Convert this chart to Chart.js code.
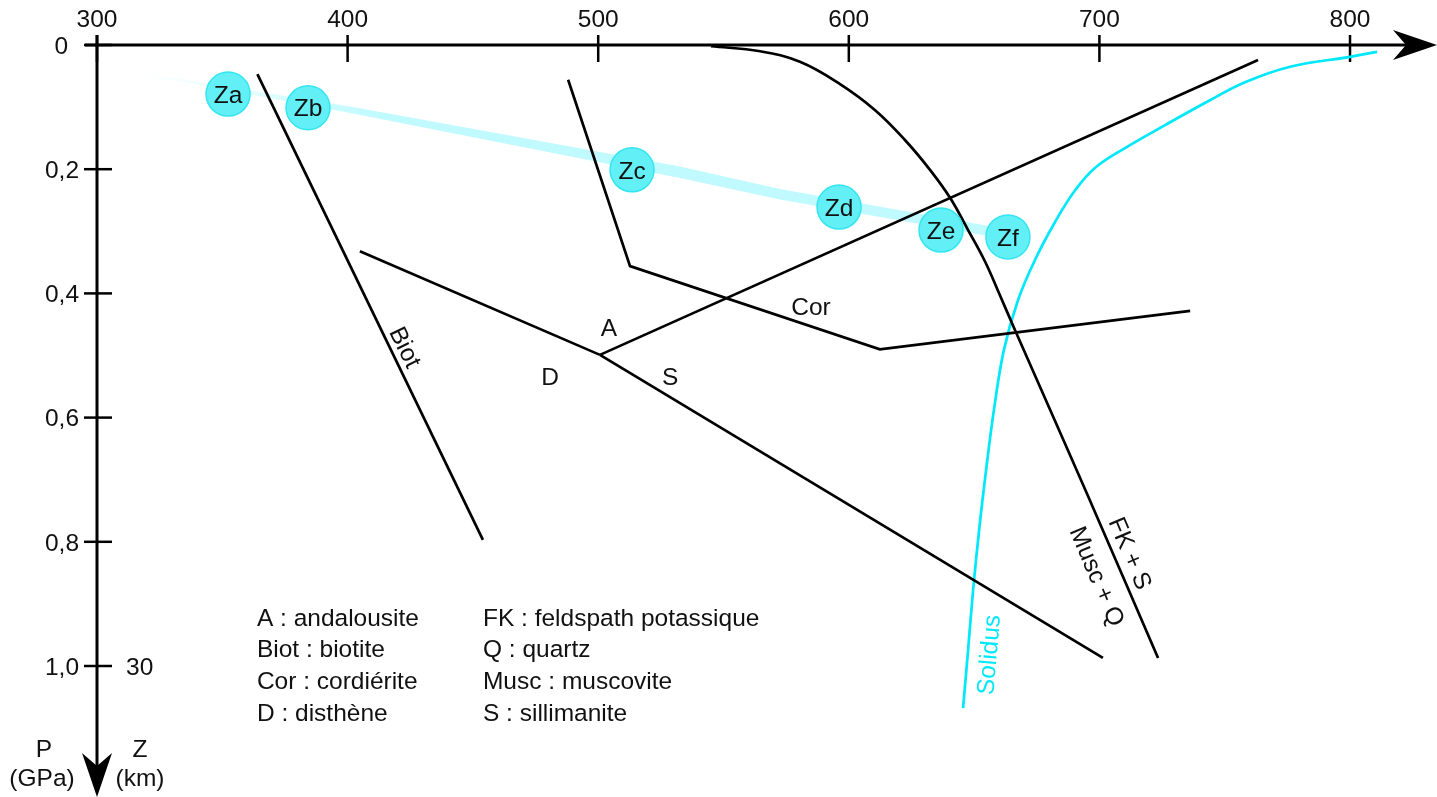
<!DOCTYPE html>
<html lang="fr">
<head>
<meta charset="utf-8">
<title>Chemin P-T et réactions métamorphiques</title>
<script src="https://cdn.jsdelivr.net/npm/chart.js@4.4.1/dist/chart.umd.min.js"></script>
<style>
  html, body { margin: 0; padding: 0; background: #ffffff; overflow: hidden; }
  #wrap { position: relative; width: 1437px; height: 797px; }
</style>
</head>
<body>
<div id="wrap"><canvas id="pt"></canvas></div>
<script>
// Axes : température (°C) en abscisse, pression (GPa) en ordonnée
const temperatureTicks = [300, 400, 500, 600, 700, 800];
const pressureTicks = [0, 0.2, 0.4, 0.6, 0.8, 1.0];
const pressureTickLabels = ['0', '0,2', '0,4', '0,6', '0,8', '1,0'];
const depthTickLabels = ['30'];
const depthTickPressures = [1.0];

// Courbes de réaction (T en °C, P en GPa)
const biotiteT = [364, 454];
const biotiteP = [0.047, 0.797];
const cordieriteT = [488.0, 512.7, 612.4, 736.2];
const cordieriteP = [0.056, 0.356, 0.490, 0.428];
const andDisT = [404.9, 500.7];
const andDisP = [0.332, 0.499];
const andSilT = [500.7, 763.3];
const andSilP = [0.499, 0.024];
const disSilT = [500.7, 701.4];
const disSilP = [0.499, 0.987];
const muscoviteT = [545.0, 564.6, 580.5, 596.5, 610.5, 622.4, 632.4, 640.4, 647.6, 654.4, 660.3, 666.3, 695.1, 723.4];
const muscoviteP = [0.002, 0.010, 0.027, 0.063, 0.105, 0.153, 0.201, 0.246, 0.298, 0.349, 0.403, 0.459, 0.723, 0.987];
const solidusT = [645.6, 647.6, 649.6, 652.0, 654.8, 657.9, 661.9, 667.5, 674.3, 682.3, 690.3, 698.2, 710.2, 726.2, 744.1, 758.1, 776.1, 800.0, 810.8];
const solidusP = [1.068, 0.974, 0.878, 0.781, 0.684, 0.588, 0.491, 0.411, 0.346, 0.285, 0.234, 0.198, 0.166, 0.129, 0.089, 0.060, 0.035, 0.019, 0.011];

// Chemin P-T suivi par les zones (bande claire)
const pathT = [315.2, 401.0, 532.6, 572.5, 658.3];
const pathTopP = [0.0435, 0.0990, 0.1957, 0.2319, 0.2930];
const pathBottomP = [0.0451, 0.1095, 0.2142, 0.2488, 0.3090];

// Zones métamorphiques
const zoneNames = ['Za', 'Zb', 'Zc', 'Zd', 'Ze', 'Zf'];
const zoneT = [352.3, 384.2, 513.5, 596.1, 636.8, 663.5];
const zoneP = [0.079, 0.101, 0.201, 0.261, 0.298, 0.309];

// Étiquettes des domaines et des courbes
const fieldLabels = ['Biot', 'A', 'D', 'S', 'Cor', 'FK + S', 'Musc + Q', 'Solidus'];
const fieldLabelT = [423.3, 504.3, 480.8, 528.7, 584.9, 712.6, 699.4, 655.5];
const fieldLabelP = [0.486, 0.454, 0.533, 0.533, 0.420, 0.818, 0.855, 0.982];

// Légende des abréviations
const legendLeft = ['A : andalousite', 'Biot : biotite', 'Cor : cordiérite', 'D : disthène'];
const legendRight = ['FK : feldspath potassique', 'Q : quartz', 'Musc : muscovite', 'S : sillimanite'];

// ---- style ----
const INK = '#111111';
const CYAN = '#00e8fb';
const FONT_SIZE = 24.5;
const FONT = FONT_SIZE + 'px "Liberation Sans", Arial, Helvetica, sans-serif';
const labelStyle = {
  'Biot': { angle: 64, color: INK },
  'FK + S': { angle: 67, color: INK },
  'Musc + Q': { angle: 67, color: INK },
  'Solidus': { angle: -85, color: CYAN }
};
const legendColumnsT = [363.8, 454.0];
const legendFirstRowP = 0.921;
const legendRowStepP = 0.0511;

function pts(xs, ys) { return xs.map((x, i) => ({ x: x, y: ys[i] })); }

function drawText(ctx, str, x, y, align, angle, color) {
  ctx.save();
  ctx.translate(x, y);
  if (angle) ctx.rotate(angle * Math.PI / 180);
  ctx.font = FONT;
  ctx.fillStyle = color || INK;
  ctx.textAlign = align || 'center';
  ctx.textBaseline = 'alphabetic';
  ctx.fillText(str, 0, FONT_SIZE * 0.358);
  ctx.restore();
}

function seg(ctx, x1, y1, x2, y2) {
  ctx.beginPath(); ctx.moveTo(x1, y1); ctx.lineTo(x2, y2); ctx.stroke();
}

// Axes fléchés, graduations et libellés
const axesPlugin = {
  id: 'ptAxes',
  beforeDatasetsDraw(chart) {
    const ctx = chart.ctx, xs = chart.scales.x, ys = chart.scales.y;
    const W = chart.width, H = chart.height;
    const ox = xs.getPixelForValue(temperatureTicks[0]);
    const oy = ys.getPixelForValue(pressureTicks[0]);
    ctx.save();
    ctx.strokeStyle = '#000'; ctx.fillStyle = '#000';
    ctx.lineWidth = 3;
    seg(ctx, ox - 12, oy, W - 30, oy);
    seg(ctx, ox, oy - 10, ox, H - 30);
    // pointes de flèche
    ctx.beginPath();
    ctx.moveTo(W, oy); ctx.lineTo(W - 44, oy - 15); ctx.lineTo(W - 31, oy); ctx.lineTo(W - 44, oy + 15);
    ctx.closePath(); ctx.fill();
    ctx.beginPath();
    ctx.moveTo(ox, H); ctx.lineTo(ox - 15, H - 44); ctx.lineTo(ox, H - 31); ctx.lineTo(ox + 15, H - 44);
    ctx.closePath(); ctx.fill();
    // graduations
    ctx.lineWidth = 2.5;
    temperatureTicks.forEach(t => {
      const px = xs.getPixelForValue(t);
      seg(ctx, px, oy - 10, px, oy + 17);
      drawText(ctx, String(t), px, oy - 27, 'center');
    });
    pressureTicks.forEach((p, i) => {
      const py = ys.getPixelForValue(p);
      seg(ctx, ox - 13, py, ox + 15, py);
      drawText(ctx, pressureTickLabels[i], p === 0 ? ox - 29 : ox - 18, py, 'right');
    });
    depthTickPressures.forEach((p, i) => {
      drawText(ctx, depthTickLabels[i], ox + 29, ys.getPixelForValue(p), 'left');
    });
    drawText(ctx, 'P', ox - 53, H - 49, 'center');
    drawText(ctx, '(GPa)', ox - 55, H - 20, 'center');
    drawText(ctx, 'Z', ox + 43, H - 49, 'center');
    drawText(ctx, '(km)', ox + 43, H - 20, 'center');
    ctx.restore();
  }
};

// Noms des zones, étiquettes des courbes et légende
const labelsPlugin = {
  id: 'ptLabels',
  afterDatasetsDraw(chart) {
    const ctx = chart.ctx, xs = chart.scales.x, ys = chart.scales.y;
    const zoneMeta = chart.getDatasetMeta(chart.data.datasets.findIndex(d => d.label === 'Zones'));
    zoneMeta.data.forEach((el, i) => drawText(ctx, zoneNames[i], el.x, el.y, 'center'));
    fieldLabels.forEach((name, i) => {
      const st = labelStyle[name] || {};
      drawText(ctx, name, xs.getPixelForValue(fieldLabelT[i]), ys.getPixelForValue(fieldLabelP[i]),
        'center', st.angle || 0, st.color || INK);
    });
    [legendLeft, legendRight].forEach((col, c) => {
      col.forEach((str, r) => {
        drawText(ctx, str, xs.getPixelForValue(legendColumnsT[c]),
          ys.getPixelForValue(legendFirstRowP + r * legendRowStepP), 'left');
      });
    });
  }
};

function reactionLine(label, xs, ys, color, tension) {
  return {
    label: label, data: pts(xs, ys), borderColor: color, borderWidth: 2.7,
    pointRadius: 0, fill: false, tension: tension || 0, order: 5
  };
}

const pathFill = (context) => {
  const chart = context.chart;
  if (!chart.chartArea) return 'rgb(192,250,255)';
  const xs = chart.scales.x;
  const g = chart.ctx.createLinearGradient(xs.getPixelForValue(pathT[0]), 0, xs.getPixelForValue(pathT[1]) + 30, 0);
  g.addColorStop(0, 'rgba(192,250,255,0)');
  g.addColorStop(1, 'rgba(192,250,255,1)');
  return g;
};

new Chart(document.getElementById('pt'), {
  type: 'line',
  data: {
    datasets: [
      { label: 'Chemin haut', data: pts(pathT, pathTopP), borderWidth: 0, pointRadius: 0, fill: false, order: 10 },
      { label: 'Chemin P-T', data: pts(pathT, pathBottomP), borderWidth: 0, pointRadius: 0, fill: '-1',
        backgroundColor: pathFill, order: 10 },
      reactionLine('Biot', biotiteT, biotiteP, '#000'),
      reactionLine('Cor', cordieriteT, cordieriteP, '#000'),
      reactionLine('A / D', andDisT, andDisP, '#000'),
      reactionLine('A / S', andSilT, andSilP, '#000'),
      reactionLine('D / S', disSilT, disSilP, '#000'),
      reactionLine('Musc + Q = FK + S', muscoviteT, muscoviteP, '#000', 0.4),
      reactionLine('Solidus', solidusT, solidusP, CYAN, 0.4),
      { label: 'Zones', data: pts(zoneT, zoneP), showLine: false, pointRadius: 22, pointHoverRadius: 22,
        pointBackgroundColor: '#62eff6', pointBorderColor: '#33e6f0', pointBorderWidth: 1.5, order: 1 }
    ]
  },
  options: {
    responsive: true,
    maintainAspectRatio: false,
    animation: false,
    events: [],
    layout: { padding: 0, autoPadding: false },
    plugins: { legend: { display: false }, tooltip: { enabled: false } },
    scales: {
      x: { type: 'linear', display: false, bounds: 'data', min: 261.293, max: 834.71 },
      y: { type: 'linear', display: false, bounds: 'data', reverse: true, min: -0.072464, max: 1.21095 }
    }
  },
  plugins: [axesPlugin, labelsPlugin]
});
</script>
</body>
</html>
